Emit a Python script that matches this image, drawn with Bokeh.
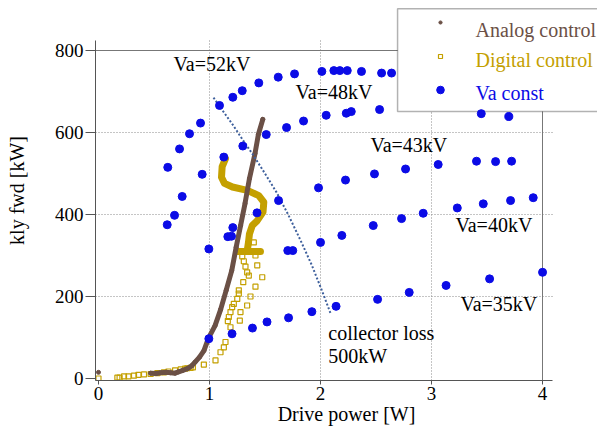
from bokeh.plotting import figure
from bokeh.models import Range1d, FixedTicker, Grid, Label, Legend, LegendItem, BoxAnnotation
from bokeh.core.properties import value
from bokeh.embed import file_html
from bokeh.resources import INLINE

FONT = "Liberation Serif"
BROWN = "#6b5046"
GOLD = "#c4a000"
BLUE = "#0b0be6"
COLL = "#3d5f9c"

x_ticks = [0, 1, 2, 3, 4]
y_ticks = [0, 200, 400, 600, 800]

# Analog control (first point is the isolated one at zero drive)
analog_x = [0.00, 0.47, 0.52, 0.56, 0.61, 0.65, 0.69, 0.72, 0.76, 0.80, 0.84, 0.87, 0.91,
            0.95, 0.99, 1.05, 1.10, 1.15, 1.20, 1.24, 1.28, 1.32, 1.36, 1.41, 1.44, 1.48]
analog_y = [15, 13, 12, 14, 15, 14, 13, 16, 20, 24, 31, 40, 52,
            68, 98, 129, 168, 215, 263, 320, 373, 427, 488, 549, 595, 632]

# Digital control: dense band (S shape) and its foot
digital_band_x = [1.144, 1.114, 1.108, 1.135, 1.207, 1.340, 1.444, 1.489, 1.482, 1.430,
                  1.385, 1.360, 1.351, 1.340]
digital_band_y = [536, 517, 491, 476, 467, 459, 446, 430, 406, 385, 373, 353, 332, 312]
digital_foot_x = [1.252, 1.459]
digital_foot_y = [310, 310]

# Digital control: scattered points
digital_x = [0.00, 0.17, 0.19, 0.23, 0.27, 0.32, 0.36, 0.41, 0.47, 0.53, 0.59, 0.63, 0.69,
             0.74, 0.78, 0.80, 0.83, 0.85, 0.949, 1.054, 1.099, 1.129, 1.144, 1.189, 1.165,
             1.174, 1.189, 1.204, 1.219, 1.250, 1.264, 1.264, 1.304, 1.354, 1.339, 1.324,
             1.309, 1.295, 1.399, 1.414, 1.430, 1.475, 1.414, 1.369, 1.339, 1.279, 1.273]
digital_y = [0, 2, 2, 5, 5, 7, 9, 10, 11, 13, 15, 17, 20,
             22, 24, 25, 26, 27, 34, 44, 64, 76, 89, 125, 140,
             150, 162, 174, 182, 194, 207, 215, 235, 251, 259, 273,
             286, 298, 332, 300, 276, 247, 224, 200, 178, 162, 141]

# Va const curves
va52_x = [0.619, 0.685, 0.754, 0.624, 0.730, 0.820, 0.919, 1.090, 1.210, 1.295, 1.444,
          1.619, 1.766, 2.012, 2.120, 2.174, 2.241, 2.369, 2.550, 2.640]
va52_y = [375, 398, 444, 515, 560, 597, 623, 666, 686, 702, 721,
          735, 743, 749, 751, 751, 751, 749, 745, 745]
va48_x = [0.934, 1.129, 1.300, 1.511, 1.694, 1.847, 2.051, 2.232, 2.277, 2.532, 3.448, 3.696]
va48_y = [498, 540, 567, 595, 612, 628, 642, 647, 651, 656, 646, 639]
va43_x = [0.994, 1.165, 1.198, 1.210, 1.428, 1.622, 1.982, 2.225, 2.486, 2.766, 3.060,
          3.405, 3.577, 3.721]
va43_y = [316, 346, 347, 368, 404, 434, 465, 484, 499, 511, 522, 530, 529, 530]
va40_x = [1.705, 1.750, 2.000, 2.192, 2.475, 2.730, 2.925, 3.232, 3.466, 3.712, 3.916]
va40_y = [312, 312, 332, 349, 373, 390, 403, 416, 426, 434, 441]
va35_x = [0.994, 1.203, 1.387, 1.518, 1.712, 1.922, 2.140, 2.514, 2.799, 3.131, 3.523, 4.000]
va35_y = [97, 109, 123, 138, 148, 163, 176, 193, 210, 227, 243, 259]

# Collector loss 500 kW line
coll_x = [1.036, 1.117, 1.207, 1.297, 1.396, 1.495, 1.604, 1.712, 1.820, 1.919, 2.009, 2.090]
coll_y = [685, 654, 620, 583, 544, 502, 454, 398, 337, 278, 217, 159]

va_labels = ["Va=52kV", "Va=48kV", "Va=43kV", "Va=40kV", "Va=35kV"]
va_label_x = [0.676, 1.775, 2.45, 3.216, 3.26]
va_label_y = [768, 700, 570, 374, 181]

leg_names = ["Analog control", "Digital control", "Va const"]
leg_colors = [BROWN, GOLD, BLUE]

X0, X1 = -0.027, 4.495
Y0, Y1 = -4.9, 922
AX_XMAX, AX_YMAX = 4.09, 824

p = figure(width=597, height=427, output_backend="svg", toolbar_location=None,
           x_range=Range1d(X0, X1), y_range=Range1d(Y0, Y1),
           min_border_left=95, min_border_right=0, min_border_top=0, min_border_bottom=47)
p.outline_line_color = None
p.background_fill_color = "white"
p.border_fill_color = "white"

for ax in (p.xaxis[0], p.yaxis[0]):
    ax.axis_line_color = "#555555"
    ax.major_tick_line_color = "#555555"
    ax.minor_tick_line_color = None
    ax.major_tick_in = 0
    ax.major_label_text_font = FONT
    ax.major_label_text_font_size = "19px"
    ax.major_label_text_color = "black"
    ax.axis_label_text_font = FONT
    ax.axis_label_text_font_size = "20px"
    ax.axis_label_text_font_style = "normal"
    ax.axis_label_text_color = "black"
p.xaxis.ticker = FixedTicker(ticks=x_ticks)
p.yaxis.ticker = FixedTicker(ticks=y_ticks)
p.xaxis.bounds = (X0, AX_XMAX)
p.yaxis.bounds = (Y0, AX_YMAX)
p.xaxis.major_tick_out = 4
p.xaxis.major_label_standoff = 2
p.xaxis.axis_label = "Drive power [W]"
p.xaxis.axis_label_standoff = 0
p.yaxis.major_tick_out = 10
p.yaxis.major_label_standoff = 2
p.yaxis.axis_label = "kly fwd [kW]"
p.yaxis.axis_label_standoff = 24

p.xgrid.ticker = FixedTicker(ticks=[1, 2, 3])
p.ygrid.ticker = FixedTicker(ticks=[200, 400, 600])
p.xgrid.cross_bounds = (Y0, AX_YMAX)
p.ygrid.cross_bounds = (X0, AX_XMAX)
for g in (p.xgrid[0], p.ygrid[0]):
    g.grid_line_color = "#8a8a8a"
    g.grid_line_dash = "1 2"
    g.grid_line_width = 1

p.add_layout(Grid(dimension=1, ticker=FixedTicker(ticks=[800]), cross_bounds=(X0, AX_XMAX),
                  grid_line_color="#777777", grid_line_width=1))
p.add_layout(Grid(dimension=0, ticker=FixedTicker(ticks=[4]), cross_bounds=(Y0, AX_YMAX),
                  grid_line_color="#777777", grid_line_width=1))

# legend box (drawn beneath the glyph layer, above the grid)
p.add_layout(BoxAnnotation(left=2.694, right=6.0, bottom=651, top=902, fill_color="white",
                           fill_alpha=1, line_color="black", line_width=1.5, level="underlay",
                           editable=False))

# digital control
p.line(digital_band_x, digital_band_y, line_width=7, color=GOLD, line_join="round", line_cap="round")
p.line(digital_foot_x, digital_foot_y, line_width=7, color=GOLD, line_cap="round")
r_dig = p.scatter(digital_x, digital_y, marker="square", size=5, fill_color=None,
                  line_color=GOLD, line_width=1.2)

# analog control
p.line(analog_x[1:], analog_y[1:], line_width=5, color=BROWN, line_join="round", line_cap="round")
r_ana = p.scatter(analog_x, analog_y, size=4, color=BROWN)

# collector loss
p.line(coll_x, coll_y, line_width=2, line_dash="2 2", color=COLL)

# Va const
va_x = va52_x + va48_x + va43_x + va40_x + va35_x
va_y = va52_y + va48_y + va43_y + va40_y + va35_y
r_va = p.scatter(va_x, va_y, size=8, color=BLUE)

for t, lx, ly in zip(va_labels, va_label_x, va_label_y):
    p.add_layout(Label(x=lx, y=ly, text=t, text_font=FONT, text_font_size="20px",
                       text_color="black", text_baseline="alphabetic"))
p.add_layout(Label(x=2.07, y=111, text="collector loss", text_font=FONT, text_font_size="20px",
                   text_color="black", text_baseline="alphabetic"))
p.add_layout(Label(x=2.07, y=54, text="500kW", text_font=FONT, text_font_size="20px",
                   text_color="black", text_baseline="alphabetic"))

# legend texts, coloured like their series
p.text(x=3.396, y=[851, 776, 697], text=leg_names, text_color=leg_colors,
       text_font=value(FONT), text_font_size="20px", text_baseline="alphabetic")

# one legend per entry so each marker keeps its own size
for name, rend, gh, vy in zip(leg_names, [r_ana, r_dig, r_va], [8, 10, 19], [354, 319, 281]):
    lg = Legend(items=[LegendItem(label=name, renderers=[rend])],
                location=(333, vy), orientation="vertical", padding=0, spacing=0,
                glyph_height=gh, glyph_width=24, label_standoff=0, label_height=1,
                label_width=1, label_text_font_size="1px", label_text_alpha=0,
                border_line_color=None, background_fill_alpha=0, margin=0)
    p.add_layout(lg)

open("out.html", "w").write(file_html(p, INLINE))
